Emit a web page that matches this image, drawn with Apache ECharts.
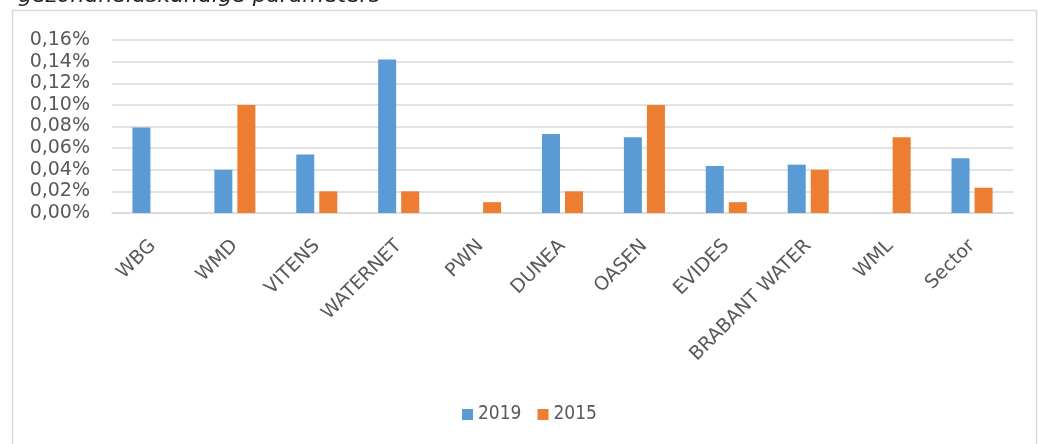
<!DOCTYPE html>
<html><head><meta charset="utf-8">
<script src="https://cdn.jsdelivr.net/npm/echarts@6/dist/echarts.min.js"></script>
<style>html,body{margin:0;padding:0;background:#fff}#c{width:1039px;height:444px}</style>
</head><body><div id="c"></div>
<script>
const categories = ['WBG','WMD','VITENS','WATERNET','PWN','DUNEA','OASEN','EVIDES','BRABANT WATER','WML','Sector'];
const values2019 = [0.079, 0.040, 0.054, 0.142, null, 0.073, 0.070, 0.0435, 0.0447, null, 0.0506];
const values2015 = [null, 0.100, 0.020, 0.020, 0.010, 0.020, 0.100, 0.010, 0.040, 0.070, 0.0234];
const seriesNames = ['2019','2015'];
const yTicks = {min:0, max:0.16, interval:0.02};
const titleText = 'gezondheidskundige parameters';

const chart = echarts.init(document.getElementById('c'), null, {renderer:'canvas'});
const font = 'DejaVu Sans';
chart.setOption({
  animation:false,
  textStyle:{fontFamily:font},
  graphic:[
    {type:'rect', shape:{x:12.5,y:10.5,width:1024,height:460}, style:{fill:'none', stroke:'#d9d9d9', lineWidth:1.5}, silent:true},
    {type:'text', left:18, top:-15, style:{text:titleText, font:'italic 22px "DejaVu Sans"', fill:'#222'}}
  ],
  legend:{
    data:seriesNames, left:457, top:400, itemWidth:11, itemHeight:11, itemGap:16,
    textStyle:{fontSize:19, color:'#595959', fontFamily:'Liberation Sans Narrow, DejaVu Sans Condensed'}, icon:'rect'
  },
  grid:{left:112, right:26, top:40, bottom:231},
  xAxis:{
    type:'category', data:categories,
    axisLine:{lineStyle:{color:'#d9d9d9', width:1.5}},
    axisTick:{show:false},
    axisLabel:{rotate:45, fontSize:19, color:'#595959', margin:30, interval:0}
  },
  yAxis:{
    type:'value', min:yTicks.min, max:yTicks.max, interval:yTicks.interval,
    axisLine:{show:false}, axisTick:{show:false},
    splitLine:{lineStyle:{color:'#d9d9d9', width:1.5}},
    axisLabel:{fontSize:19, color:'#595959', margin:22,
      formatter:v=>v.toFixed(2).replace('.',',')+'%'}
  },
  series:[
    {name:seriesNames[0], type:'bar', data:values2019, barWidth:18, barGap:'28%', itemStyle:{color:'#5b9bd5'}},
    {name:seriesNames[1], type:'bar', data:values2015, barWidth:18, barGap:'28%', itemStyle:{color:'#ed7d31'}}
  ]
});
</script></body></html>
